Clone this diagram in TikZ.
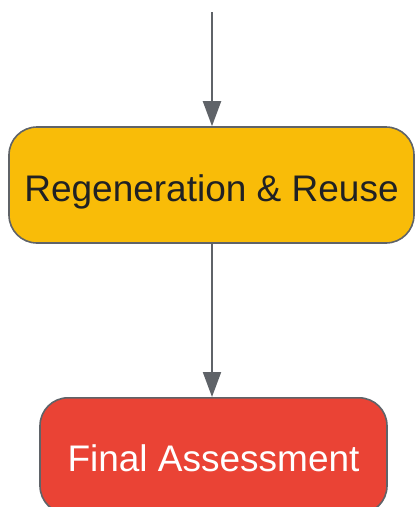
\documentclass[tikz,border=0pt]{standalone}
\usepackage{fontspec}
\setmainfont{Liberation Sans}
\usetikzlibrary{arrows.meta}
\definecolor{stepyellow}{HTML}{F9BC08}
\definecolor{stepred}{HTML}{EA4335}
\definecolor{edgegray}{HTML}{5F6368}
\definecolor{textdark}{HTML}{202124}
\tikzset{
  stepbox/.style={rectangle,rounded corners=28pt,draw=edgegray,line width=1.6pt,
    minimum height=116pt,inner sep=0pt,text height=32pt,text depth=0pt,
    font=\fontsize{37}{44}\selectfont},
  flow/.style={draw=edgegray,line width=2pt,-{Triangle[length=25pt,width=18pt]}}
}
\begin{document}
\begin{tikzpicture}[x=1pt,y=-1pt]

    \useasboundingbox (0,0) rectangle (415,507);
    \clip (0,0) rectangle (415,507);

    % entry point
    \coordinate (entry) at (212,12);

    % boxes
    \node[stepbox,fill=stepyellow,text=textdark,minimum width=405pt]
      (regen) at (211.5,185) {Regeneration \& Reuse};
    \node[stepbox,fill=stepred,text=white,minimum width=347pt,anchor=north]
      (final) at (213.5,397) {Final Assessment};

    % arrows
    \draw[flow] (entry) -- (entry |- regen.north);
    \draw[flow] (entry |- regen.south) -- (entry |- final.north);

\end{tikzpicture}
\end{document}
